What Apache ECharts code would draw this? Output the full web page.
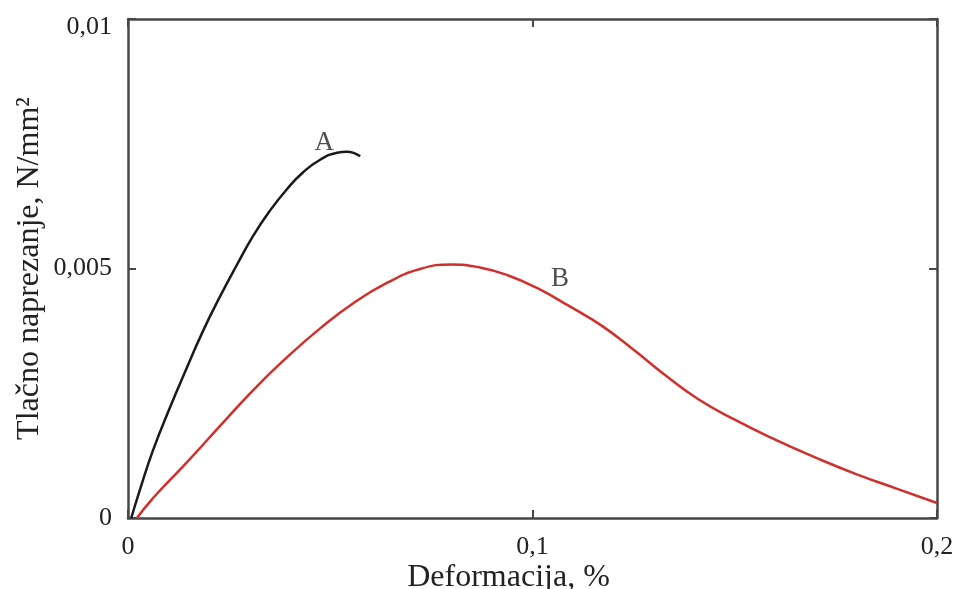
<!DOCTYPE html>
<html>
<head>
<meta charset="utf-8">
<script src="https://cdn.jsdelivr.net/npm/echarts@6/dist/echarts.min.js"></script>
<style>
html,body{margin:0;padding:0;background:#fff;}
#main{width:957px;height:589px;}
</style>
</head>
<body>
<div id="main"></div>
<script>
// Curve A (strain %, stress N/mm2)
const strainA = [0.0008, 0.0030, 0.0062, 0.0104, 0.0146, 0.0185, 0.0227, 0.0269, 0.0309, 0.0351, 0.0393, 0.0433, 0.0475, 0.0517, 0.0541, 0.0574];
const stressA = [0.00000, 0.00058, 0.00136, 0.00222, 0.00302, 0.00374, 0.00443, 0.00507, 0.00565, 0.00616, 0.00659, 0.00693, 0.00718, 0.00732, 0.00734, 0.00725];
// Curve B
const strainB = [0.0022, 0.0062, 0.0146, 0.0227, 0.0309, 0.0393, 0.0475, 0.0556, 0.0640, 0.0722, 0.0800, 0.0870, 0.0940, 0.1011, 0.1090, 0.1170, 0.1250, 0.1330, 0.1410, 0.1500, 0.1600, 0.1700, 0.1800, 0.1900, 0.2000];
const stressB = [0.00000, 0.00040, 0.00112, 0.00184, 0.00256, 0.00322, 0.00380, 0.00430, 0.00471, 0.00499, 0.00508, 0.00502, 0.00486, 0.00461, 0.00425, 0.00386, 0.00337, 0.00285, 0.00238, 0.00197, 0.00157, 0.00121, 0.00088, 0.00059, 0.00030];
// Curve labels
const curveNames = ['A', 'B'];
const curveLabelX = [0.0485, 0.1068];
const curveLabelY = [0.00752, 0.00480];
// Axes
const xTicks = [0, 0.1, 0.2];
const yTicks = [0, 0.005, 0.01];
const xTitle = 'Deformacija, %';
const yTitle = 'Tlačno naprezanje, N/mm²';

const FONT = '"Liberation Serif", "DejaVu Serif", serif';
const AXIS_COLOR = '#474747';
const fmt = v => String(+v.toFixed(4)).replace('.', ',');

const chart = echarts.init(document.getElementById('main'), null, {renderer: 'canvas'});

function xAxisCfg(pos, main) {
  return {
    type: 'value', position: pos, min: xTicks[0], max: xTicks[xTicks.length - 1], interval: xTicks[1] - xTicks[0],
    axisLine: {show: true, onZero: false, lineStyle: {color: AXIS_COLOR, width: 2.5}},
    axisTick: {show: true, inside: true, length: 8, lineStyle: {color: AXIS_COLOR, width: 2}},
    axisLabel: {show: main, formatter: fmt, color: '#222', fontFamily: FONT, fontSize: 26, margin: 16},
    splitLine: {show: false},
    name: main ? xTitle : '', nameLocation: 'middle', nameGap: 44, nameMoveOverlap: false,
    nameTextStyle: {color: '#222', fontFamily: FONT, fontSize: 32, padding: [0, 48, 0, 0]}
  };
}
function yAxisCfg(pos, main) {
  return {
    type: 'value', position: pos, min: yTicks[0], max: yTicks[yTicks.length - 1], interval: yTicks[1] - yTicks[0],
    axisLine: {show: true, onZero: false, lineStyle: {color: AXIS_COLOR, width: 2.5}},
    axisTick: {show: true, inside: true, length: 8, lineStyle: {color: AXIS_COLOR, width: 2}},
    axisLabel: {
      show: main, color: '#222', fontFamily: FONT, fontSize: 26, margin: 16,
      formatter: v => v === yTicks[yTicks.length - 1] ? '{top|' + fmt(v) + '}' : fmt(v),
      rich: {top: {fontFamily: FONT, fontSize: 26, color: '#222', padding: [16, 0, 0, 0]}}
    },
    splitLine: {show: false},
    name: main ? yTitle : '', nameLocation: 'middle', nameGap: 82, nameRotate: 90, nameMoveOverlap: false,
    nameTextStyle: {color: '#222', fontFamily: FONT, fontSize: 32}
  };
}

const zip = (xs, ys) => xs.map((x, i) => [x, ys[i]]);

chart.setOption({
  backgroundColor: '#ffffff',
  animation: false,
  grid: {left: 128, right: 20, top: 19, bottom: 71, containLabel: false, outerBoundsMode: 'none'},
  xAxis: [xAxisCfg('bottom', true), xAxisCfg('top', false)],
  yAxis: [yAxisCfg('left', true), yAxisCfg('right', false)],
  series: [
    {
      name: 'A', type: 'line', data: zip(strainA, stressA), smooth: 0.5, showSymbol: false,
      lineStyle: {color: '#1a1a1a', width: 2.5}, itemStyle: {color: '#1a1a1a'}
    },
    {
      name: 'B', type: 'line', data: zip(strainB, stressB), smooth: 0.5, showSymbol: false,
      lineStyle: {color: '#d0302c', width: 2.5}, itemStyle: {color: '#d0302c'}
    },
    {
      type: 'scatter', symbolSize: 0, silent: true,
      data: curveNames.map((n, i) => ({name: n, value: [curveLabelX[i], curveLabelY[i]]})),
      label: {show: true, position: 'inside', formatter: p => p.name, color: '#222', fontFamily: FONT, fontSize: 27}
    }
  ]
});
</script>
</body>
</html>
